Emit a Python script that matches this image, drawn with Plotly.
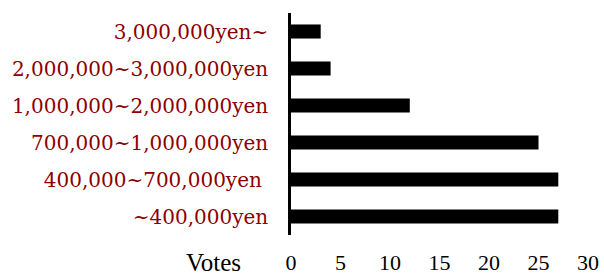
import plotly.graph_objects as go

categories = ["~400,000yen", "400,000~700,000yen ", "700,000~1,000,000yen",
              "1,000,000~2,000,000yen", "2,000,000~3,000,000yen", "3,000,000yen~"]
votes = [27, 27, 25, 12, 4, 3]
x_ticks = [0, 5, 10, 15, 20, 25, 30]

FONT = "DejaVu Serif"
FONT_X = "Liberation Serif"

fig = go.Figure(go.Bar(
    x=votes, y=categories, orientation="h",
    marker=dict(color="black", line=dict(width=0)),
    width=0.38,
))

fig.update_layout(
    width=604, height=276,
    margin=dict(l=291, r=16, t=13, b=41),
    paper_bgcolor="white", plot_bgcolor="white",
    showlegend=False,
    font=dict(family=FONT, size=20, color="black"),
    xaxis=dict(range=[0, 30], tickvals=x_ticks, showgrid=False, zeroline=False,
               showline=False, ticks="", ticklabelstandoff=12, automargin=False,
               tickfont=dict(family=FONT_X, size=22, color="black")),
    yaxis=dict(showgrid=False, zeroline=False, showline=True, linecolor="black",
               linewidth=2.5, ticks="", ticklabelstandoff=16, automargin=False,
               tickfont=dict(family=FONT, size=20, color="#8B0000"),
               categoryorder="array", categoryarray=categories),
    annotations=[dict(text="Votes", xref="paper", yref="paper", x=-0.1616, y=0,
                      xanchor="right", yanchor="middle", yshift=-27, showarrow=False,
                      font=dict(family=FONT_X, size=25, color="black"))],
)

fig.write_html("out.html", config={"displayModeBar": False},
               post_script="document.body.style.margin='0';document.body.style.overflow='hidden';")
